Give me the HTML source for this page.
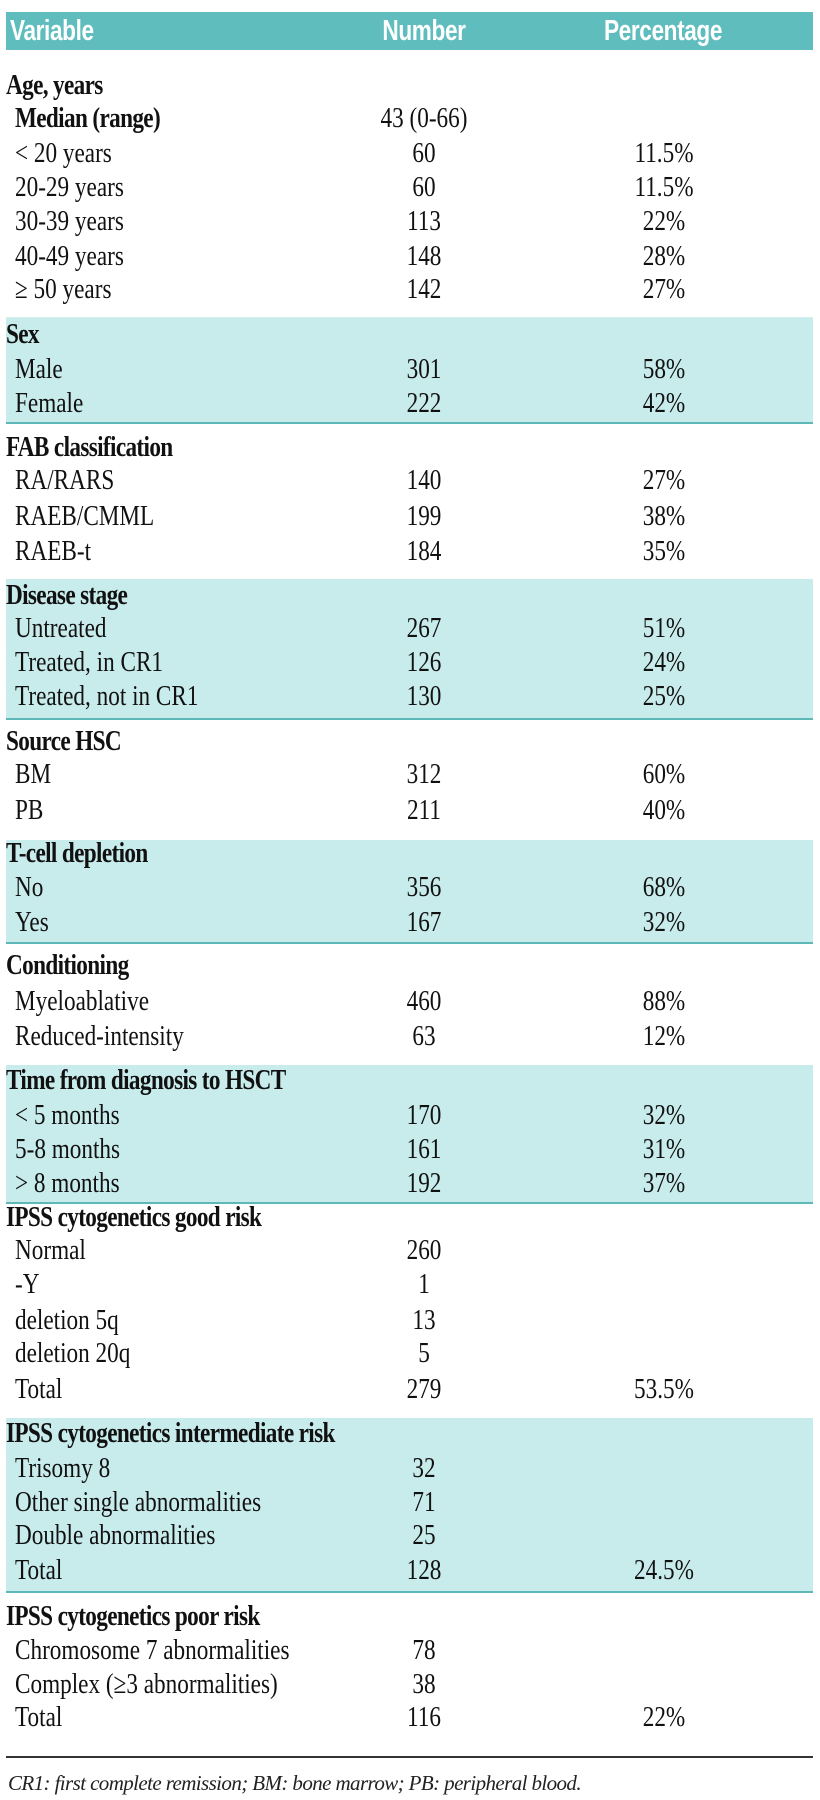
<!DOCTYPE html>
<html><head><meta charset="utf-8">
<style>
html,body{margin:0;padding:0;background:#fff;}
body{width:820px;height:1800px;position:relative;overflow:hidden;font-family:"Liberation Serif",serif;color:#111;}
.hdr{position:absolute;left:6px;top:12px;width:807px;height:38px;background:#5fbdbe;}
.hdr span{position:absolute;top:0;line-height:38px;color:#fff;font-family:"Liberation Sans Narrow","Liberation Sans",sans-serif;font-weight:bold;font-size:29px;letter-spacing:-0.5px;transform:scaleX(0.78);}
.band{position:absolute;left:6px;width:807px;background:#c8ebec;border-bottom:2px solid #5fb8b8;box-sizing:border-box;}
.row{position:absolute;left:0;width:820px;height:34px;line-height:34px;font-size:29px;white-space:nowrap;}
.row span{display:inline-block;}
.row .lab{position:absolute;left:15px;transform:scaleX(0.8);transform-origin:left center;}
.row.h .lab{left:6px;font-weight:bold;letter-spacing:-0.8px;}
.row.b .lab{font-weight:bold;letter-spacing:-0.8px;}
.row .num{position:absolute;left:324px;width:200px;text-align:center;transform:scaleX(0.8);}
.row .pct{position:absolute;left:564px;width:200px;text-align:center;transform:scaleX(0.8);}
.rule{position:absolute;left:6px;top:1756px;width:807px;height:2px;background:#333;}
.foot{position:absolute;left:8px;top:1771px;font-style:italic;font-size:21px;letter-spacing:-0.6px;color:#222;}
</style></head>
<body>
<div class="hdr">
  <span style="left:4px;transform-origin:left center">Variable</span>
  <span style="left:318px;width:200px;text-align:center">Number</span>
  <span style="left:557px;width:200px;text-align:center">Percentage</span>
</div>
<div class="band" style="top:317px;height:1px;background:#d6eeee;border:none"></div>
<div class="band" style="top:318px;height:106px"></div>
<div class="band" style="top:579px;height:141px"></div>
<div class="band" style="top:840px;height:104px"></div>
<div class="band" style="top:1065px;height:139px"></div>
<div class="band" style="top:1418px;height:175px"></div>
<div id="rows"></div>
<div class="rule"></div>
<div class="foot">CR1: first complete remission; BM: bone marrow; PB: peripheral blood.</div>
<script>
var labels=["Age, years","Median (range)","< 20 years","20-29 years","30-39 years","40-49 years","≥ 50 years","Sex","Male","Female","FAB classification","RA/RARS","RAEB/CMML","RAEB-t","Disease stage","Untreated","Treated, in CR1","Treated, not in CR1","Source HSC","BM","PB","T-cell depletion","No","Yes","Conditioning","Myeloablative","Reduced-intensity","Time from diagnosis to HSCT","< 5 months","5-8 months","> 8 months","IPSS cytogenetics good risk","Normal","-Y","deletion 5q","deletion 20q","Total","IPSS cytogenetics intermediate risk","Trisomy 8","Other single abnormalities","Double abnormalities","Total","IPSS cytogenetics poor risk","Chromosome 7 abnormalities","Complex (≥3 abnormalities)","Total"];
var kinds=["h","b","s","s","s","s","s","h","s","s","h","s","s","s","h","s","s","s","h","s","s","h","s","s","h","s","s","h","s","s","s","h","s","s","s","s","s","h","s","s","s","s","h","s","s","s"];
var numbers=["","43 (0-66)","60","60","113","148","142","","301","222","","140","199","184","","267","126","130","","312","211","","356","167","","460","63","","170","161","192","","260","1","13","5","279","","32","71","25","128","","78","38","116"];
var percents=["","","11.5%","11.5%","22%","28%","27%","","58%","42%","","27%","38%","35%","","51%","24%","25%","","60%","40%","","68%","32%","","88%","12%","","32%","31%","37%","","","","","","53.5%","","","","","24.5%","","","","22%"];
var rowY=[85,118,153,187,221,256,289,334,369,403,447,480,516,551,595,628,662,696,741,774,810,853,887,922,965,1001,1036,1080,1115,1149,1183,1217,1250,1284,1320,1353,1389,1433,1468,1502,1535,1570,1616,1650,1684,1717];
var host=document.getElementById('rows');
for(var i=0;i<labels.length;i++){
  var r=document.createElement('div');
  r.className='row '+kinds[i];
  r.style.top=(rowY[i]-17)+'px';
  
  
  var a=document.createElement('span');a.className='lab';a.textContent=labels[i];
  
  
  r.appendChild(a);
  if(numbers[i]){var n=document.createElement('span');n.className='num';n.textContent=numbers[i];
    
    
    r.appendChild(n);}
  if(percents[i]){var p=document.createElement('span');p.className='pct';p.textContent=percents[i];
    
    
    r.appendChild(p);}
  host.appendChild(r);
}
</script>
</body></html>
